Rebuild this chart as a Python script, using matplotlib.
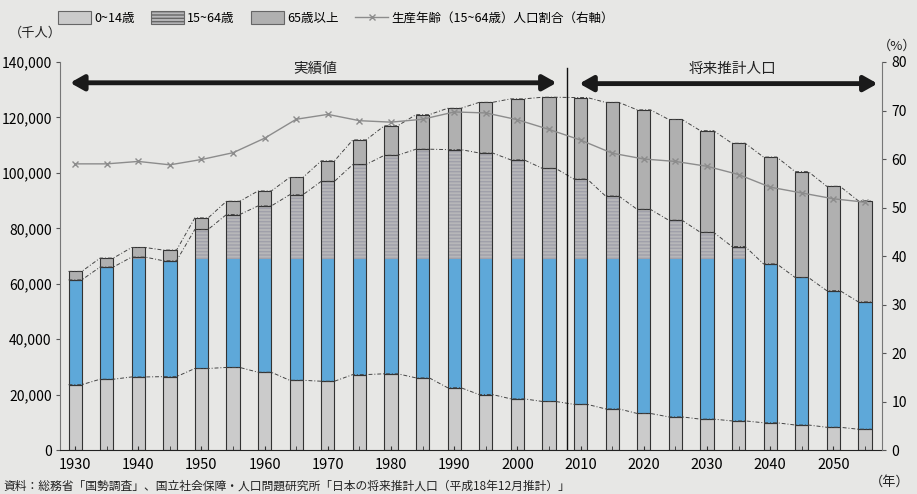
import numpy as np
import matplotlib.pyplot as plt
from matplotlib.patches import Patch
from matplotlib.lines import Line2D

plt.rcParams['font.family'] = ['Liberation Sans Narrow', 'Noto Sans CJK JP', 'DejaVu Sans']

# data (thousand persons, %)
years = [1930, 1935, 1940, 1945, 1950, 1955, 1960, 1965, 1970, 1975, 1980, 1985, 1990,
         1995, 2000, 2005, 2010, 2015, 2020, 2025, 2030, 2035, 2040, 2045, 2050, 2055]
age_0_14 = [23579, 25545, 26369, 26477, 29428, 29798, 28067, 25166, 24823, 27221, 27507, 26033, 22486,
            20014, 18472, 17521, 16479, 14841, 13201, 11956, 11150, 10512, 9833, 9036, 8214, 7516]
age_15_64 = [37807, 40484, 43252, 41821, 50168, 55167, 60002, 66928, 72119, 75807, 78835, 82506, 85904,
             87165, 86220, 84092, 81285, 76807, 73635, 70960, 67404, 62919, 57335, 53227, 49297, 45951]
age_65 = [3064, 3225, 3454, 3849, 4155, 4786, 5398, 6236, 7393, 8865, 10647, 12468, 14895,
          18261, 22005, 25672, 29412, 33781, 35899, 36354, 36670, 37249, 38527, 38178, 37641, 36463]
working_ratio = [59.0, 59.0, 59.5, 58.8, 59.9, 61.3, 64.3, 68.2, 69.2, 67.9, 67.6, 68.2, 69.7,
                 69.5, 68.1, 66.1, 63.9, 61.2, 60.0, 59.5, 58.5, 56.8, 54.2, 53.0, 51.8, 51.1]

x = np.array(years, dtype=float)
a = np.array(age_0_14, dtype=float)
b = np.array(age_15_64, dtype=float)
c = np.array(age_65, dtype=float)
r = np.array(working_ratio)

bg = '#e7e7e5'
fig = plt.figure(figsize=(9.17, 4.94), dpi=100, facecolor=bg)
ax = fig.add_axes([0.0654, 0.089, 0.8964, 0.7855])
ax.set_facecolor(bg)

w = 2.1
col_child = '#cbcbcb'
col_work = '#b7b7b9'
col_old = '#b0b0b0'
col_blue = '#5ea8d9'
edge = '#333333'

ax.bar(x, a, w, color=col_child, edgecolor=edge, linewidth=0.8)
ax.bar(x, b, w, bottom=a, color=col_work, edgecolor='#a0a0aa', linewidth=0.0, hatch='-----')
# blue tint on the lower part of the working-age segment (as on the scanned page)
blue_top = np.minimum(a + b, 69000)
ax.bar(x, blue_top - a, w, bottom=a, color=col_blue, linewidth=0)
ax.bar(x, b, w, bottom=a, fill=False, edgecolor=edge, linewidth=0.8)
ax.bar(x, c, w, bottom=a + b, color=col_old, edgecolor=edge, linewidth=0.8)

# series lines between bars
xs = np.column_stack([x - w / 2, x + w / 2]).ravel()
for top in (a, a + b, a + b + c):
    ax.plot(xs, np.repeat(top, 2), color='#444444', lw=0.7, ls=(0, (4, 2, 1, 2)), zorder=3)

ax.set_xlim(1927.6, 2057.7)
ax.set_ylim(0, 140000)
ax.set_yticks(range(0, 140001, 20000))
ax.set_yticklabels([f'{v:,}' for v in range(0, 140001, 20000)], fontsize=10)
ax.set_xticks(range(1930, 2051, 10))
ax.set_xticklabels([str(v) for v in range(1930, 2051, 10)], fontsize=10.5)
ax.set_xticks(range(1935, 2056, 5), minor=True)
ax.tick_params(axis='x', which='both', direction='in', length=3, color='#333333', pad=6)
ax.tick_params(axis='y', direction='out', length=3, color='#555555', pad=3)
ax.spines['top'].set_visible(False)
ax.spines['right'].set_visible(False)
ax.spines['left'].set_color('#777777')
ax.spines['left'].set_linewidth(0.8)
ax.spines['bottom'].set_color('#222222')

ax2 = ax.twinx()
ax2.plot(x, r, color='#8c8c8c', lw=1.0, marker='x', ms=5, mew=1.0, zorder=4)
ax2.set_ylim(0, 80)
ax2.set_yticks(range(0, 81, 10))
ax2.set_yticklabels([str(v) for v in range(0, 81, 10)], fontsize=10)
ax2.tick_params(axis='y', direction='out', length=3, color='#555555', pad=4)
for s in ('top', 'left', 'bottom'):
    ax2.spines[s].set_visible(False)
ax2.spines['right'].set_color('#777777')
ax2.spines['right'].set_linewidth(0.8)

# period arrows and divider
ax.axvline(2007.8, ymin=0, ymax=0.985, color='#111111', lw=1.0, zorder=5)
arrow = dict(arrowstyle='<|-|>,head_length=0.8,head_width=0.45', color='#1a1a1a', lw=3.5,
             shrinkA=0, shrinkB=0)
ax.annotate('', xy=(1929.2, 132500), xytext=(2006.2, 132500), arrowprops=arrow, zorder=6)
ax.annotate('', xy=(2009.8, 132200), xytext=(2057.0, 132200), arrowprops=arrow,
            annotation_clip=False, zorder=6)
ax.text(1968, 137500, '実績値', ha='center', va='center', fontsize=10.5, color='#222222')
ax.text(2034, 137500, '将来推計人口', ha='center', va='center', fontsize=10.5, color='#222222')

# legend
handles = [
    Patch(facecolor=col_child, edgecolor='#666666', lw=0.8, label='0~14歳'),
    Patch(facecolor=col_work, edgecolor='#666666', lw=0.8, hatch='-----', label='15~64歳'),
    Patch(facecolor=col_old, edgecolor='#666666', lw=0.8, label='65歳以上'),
    Line2D([], [], color='#8c8c8c', lw=1.0, marker='x', ms=5, label='生産年齢（15~64歳）人口割合（右軸）'),
]
fig.legend(handles=handles, loc='center', bbox_to_anchor=(0.366, 0.963), ncol=4, frameon=False,
           fontsize=9, handlelength=2.7, handleheight=1.2, handletextpad=0.2, columnspacing=1.3)

fig.text(0.038, 0.932, '（千人）', ha='center', va='center', fontsize=9.5, color='#222222')
fig.text(0.978, 0.907, '（%）', ha='center', va='center', fontsize=9.5, color='#222222')
fig.text(0.970, 0.024, '（年）', ha='center', va='center', fontsize=9.5, color='#222222')
fig.text(0.004, 0.003, '資料：総務省「国勢調査」、国立社会保障・人口問題研究所「日本の将来推計人口（平成18年12月推計）」',
         ha='left', va='bottom', fontsize=8.5, color='#222222')

fig.savefig('out.png', dpi=100, facecolor=bg)
